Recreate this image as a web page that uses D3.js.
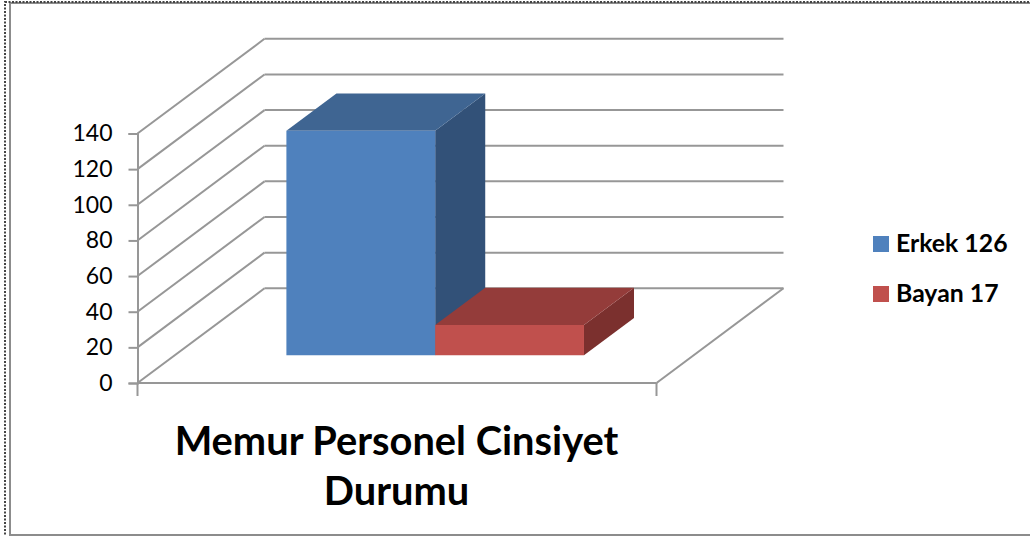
<!DOCTYPE html>
<html>
<head>
<meta charset="utf-8">
<script src="https://cdnjs.cloudflare.com/ajax/libs/d3/7.8.5/d3.min.js"></script>
<style>
  html, body { margin: 0; padding: 0; background: #fff; }
  svg { display: block; }
  text { font-family: Lato, "Open Sans", sans-serif; fill: #000; }
</style>
</head>
<body>
<div id="chart"></div>
<script>
// Data
const categories = ['Memur Personel Cinsiyet Durumu'];
const seriesNames = ['Erkek 126', 'Bayan 17'];
const seriesValues = [126, 17];
const seriesColors = ['#4f81bd', '#c0504d'];
const topColors = ['#3f6592', '#943c3a'];
const sideColors = ['#325178', '#7b302e'];
const yTicks = [0, 20, 40, 60, 80, 100, 120, 140];
const titleLines = ['Memur Personel Cinsiyet', 'Durumu'];

const width = 1030;
const height = 536;
const gridColor = '#979797';

const svg = d3.select('#chart').append('svg')
  .attr('width', width)
  .attr('height', height);

// Frame: grey border inside a dotted one
svg.append('rect')
  .attr('x', 10).attr('y', 3)
  .attr('width', 1030).attr('height', 532)
  .attr('fill', 'none').attr('stroke', '#8c8c8c').attr('stroke-width', 2);
svg.append('rect')
  .attr('x', 5).attr('y', 2)
  .attr('width', 1030).attr('height', 540)
  .attr('fill', 'none').attr('stroke', '#444').attr('stroke-width', 2).attr('stroke-dasharray', '2,1.5');

// Scales: front plane plus an oblique depth axis
const y = d3.scaleLinear().domain([0, 140]).range([383, 133.5]);
const xCat = d3.scaleBand().domain(categories)
  .range([137.5, 656.5]).paddingInner(0).paddingOuter(0.372).align(0.505);
const xSeries = d3.scaleBand().domain(seriesNames)
  .range([xCat(categories[0]), xCat(categories[0]) + xCat.bandwidth()]);
const depthX = d3.scaleLinear().domain([0, 1]).range([0, 127]);
const depthY = d3.scaleLinear().domain([0, 1]).range([0, -94.7]);

const barFront = 0.292;
const barBack = 0.686;

// Map a point (x on front plane, value, depth) to the screen
const pt = (px, v, z) => [px + depthX(z), y(v) + depthY(z)];
const poly = pts => pts.map(p => p.join(',')).join(' ');

const line = (a, b) => svg.append('line')
  .attr('x1', a[0]).attr('y1', a[1])
  .attr('x2', b[0]).attr('y2', b[1])
  .attr('stroke', gridColor).attr('stroke-width', 2);

// Walls: grid lines on the back and left side
yTicks.forEach(t => {
  line(pt(137.5, t, 0), pt(137.5, t, 1));
  line(pt(137.5, t, 1), pt(656.5, t, 1));
});

// Floor edges
line(pt(137.5, 0, 0), pt(656.5, 0, 0));
line(pt(656.5, 0, 0), pt(656.5, 0, 1));

// Category axis ticks
[137.5, 656.5].forEach(px => line([px, 383], [px, 396]));

// Value axis
const yAxis = svg.append('g')
  .attr('transform', 'translate(137.5,0)')
  .call(d3.axisLeft(y).tickValues(yTicks).tickSize(9).tickPadding(16));
yAxis.selectAll('path, line').attr('stroke', gridColor).attr('stroke-width', 2);
yAxis.selectAll('text').style('font-size', '23px').attr('fill', '#000');

// Bars: side, top, then front face
const bars = svg.append('g');
const items = seriesNames.map((name, i) => ({ name, value: seriesValues[i], i }));

bars.selectAll('polygon.side').data(items).enter().append('polygon')
  .attr('class', 'side')
  .attr('fill', d => sideColors[d.i])
  .attr('points', d => {
    const r = xSeries(d.name) + xSeries.bandwidth();
    return poly([pt(r, 0, barFront), pt(r, 0, barBack), pt(r, d.value, barBack), pt(r, d.value, barFront)]);
  });

bars.selectAll('polygon.top').data(items).enter().append('polygon')
  .attr('class', 'top')
  .attr('fill', d => topColors[d.i])
  .attr('points', d => {
    const l = xSeries(d.name);
    const r = l + xSeries.bandwidth();
    return poly([pt(l, d.value, barFront), pt(r, d.value, barFront), pt(r, d.value, barBack), pt(l, d.value, barBack)]);
  });

bars.selectAll('polygon.front').data(items).enter().append('polygon')
  .attr('class', 'front')
  .attr('fill', d => seriesColors[d.i])
  .attr('points', d => {
    const l = xSeries(d.name);
    const r = l + xSeries.bandwidth();
    return poly([pt(l, 0, barFront), pt(r, 0, barFront), pt(r, d.value, barFront), pt(l, d.value, barFront)]);
  });

// Legend
const legend = svg.selectAll('g.legend').data(items).enter().append('g')
  .attr('class', 'legend')
  .attr('transform', d => `translate(873,${236 + d.i * 50})`);
legend.append('rect')
  .attr('width', 16).attr('height', 16)
  .attr('fill', d => seriesColors[d.i]);
legend.append('text')
  .attr('x', 23).attr('y', 15.5)
  .style('font-size', '24.8px').style('font-weight', 700)
  .text(d => d.name);

// Title under the category axis
svg.selectAll('text.title').data(titleLines).enter().append('text')
  .attr('class', 'title')
  .attr('x', 396.5)
  .attr('y', (d, i) => 455 + i * 50)
  .attr('text-anchor', 'middle')
  .style('font-size', '39.8px').style('font-weight', 700)
  .text(d => d);
</script>
</body>
</html>
